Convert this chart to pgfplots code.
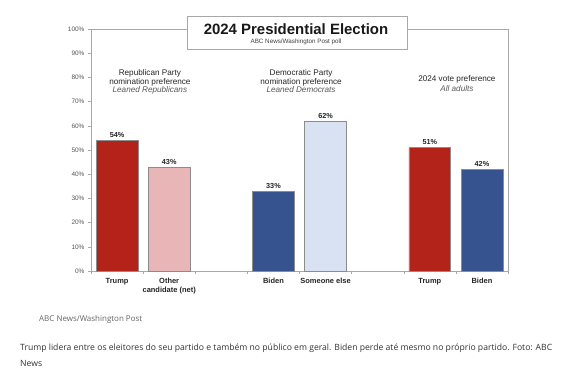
\documentclass[border=0pt]{standalone}
\usepackage{pgfplots}
\pgfplotsset{compat=1.18}
\usepackage{fontspec}
\setmainfont{Liberation Sans}
\newfontfamily\capfont{Open Sans}
\definecolor{rep}{HTML}{B3231A}
\definecolor{reppink}{HTML}{E8B6B6}
\definecolor{dem}{HTML}{37538F}
\definecolor{demlight}{HTML}{D8E2F2}
\definecolor{axgray}{HTML}{A8A8A8}
\definecolor{ticktext}{HTML}{555555}

\begin{document}
\begin{tikzpicture}[x=1bp,y=1bp]
\path[use as bounding box, fill=white] (0,0) rectangle (562,376);
\begin{axis}[
  at={(91bp,105bp)}, anchor=south west,
  scale only axis, width=417bp, height=242bp,
  xmin=0, xmax=8, ymin=0, ymax=100,
  ybar, bar width=0.8,
  axis line style={axgray, line width=0.6pt},
  every tick/.style={axgray, line width=0.5pt},
  tick align=outside,
  xtick pos=bottom, ytick pos=left,
  major tick length=3bp, minor tick length=3bp,
  xtick={0.5,1.5,3.5,4.5,6.5,7.5},
  xticklabels={Trump, Other\\candidate (net), Biden, Someone else, Trump, Biden},
  major x tick style={draw=none},
  minor xtick={0,1,...,8},
  x tick label style={font=\fontsize{7.5}{9}\selectfont\bfseries, align=center, anchor=north, text=black!85, yshift=-1bp},
  ytick={0,10,...,100},
  yticklabels={0\%,10\%,20\%,30\%,40\%,50\%,60\%,70\%,80\%,90\%,100\%},
  y tick label style={font=\fontsize{6.5}{7.5}\selectfont, text=ticktext},
  point meta=explicit symbolic,
  nodes near coords={\pgfplotspointmeta},
  every node near coord/.append style={font=\fontsize{7.3}{8}\selectfont\bfseries, text=black!85, yshift=-1bp},
  clip=false,
]
\addplot[bar shift=0pt, fill=rep, draw=black!45, line width=0.5pt] coordinates {(0.5,54) [54\%] (6.5,51) [51\%]};
\addplot[bar shift=0pt, fill=reppink, draw=black!45, line width=0.5pt] coordinates {(1.5,43) [43\%]};
\addplot[bar shift=0pt, fill=dem, draw=black!45, line width=0.5pt] coordinates {(3.5,33) [33\%] (7.5,42) [42\%]};
\addplot[bar shift=0pt, fill=demlight, draw=black!45, line width=0.5pt] coordinates {(4.5,62) [62\%]};

\begin{scope}[every node/.style={anchor=base, inner sep=0pt, text=black!85}]
\node[font=\fontsize{8.2}{9}\selectfont] at (axis cs:1.13,80.6) {Republican Party};
\node[font=\fontsize{8.2}{9}\selectfont] at (axis cs:1.13,76.9) {nomination preference};
\node[font=\fontsize{8.2}{9}\selectfont\itshape, text=black!65] at (axis cs:1.13,73.6) {Leaned Republicans};
\node[font=\fontsize{8.2}{9}\selectfont] at (axis cs:4.03,80.6) {Democratic Party};
\node[font=\fontsize{8.2}{9}\selectfont] at (axis cs:4.03,76.9) {nomination preference};
\node[font=\fontsize{8.2}{9}\selectfont\itshape, text=black!65] at (axis cs:4.03,73.6) {Leaned Democrats};
\node[font=\fontsize{8.2}{9}\selectfont] at (axis cs:7.02,78.1) {2024 vote preference};
\node[font=\fontsize{8.2}{9}\selectfont\itshape, text=black!65] at (axis cs:7.02,74.0) {All adults};
\end{scope}
\end{axis}

% title box
\draw[axgray, line width=0.6pt, fill=white] (187,327) rectangle (407,360);
\node[font=\fontsize{15}{17}\selectfont\bfseries, inner sep=0pt, text=black!90] at (296,347) {2024 Presidential Election};
\node[font=\fontsize{6.3}{7}\selectfont, inner sep=0pt, text=black!75] at (296,334) {ABC News/Washington Post poll};

% source and caption
\node[anchor=west, inner sep=0pt, font=\capfont\fontsize{8}{9}\selectfont, text=black!60] at (39,57) {ABC News/Washington Post};
\node[anchor=west, inner sep=0pt, font=\capfont\fontsize{8.65}{10}\selectfont, text=black!80] at (20,28) {Trump lidera entre os eleitores do seu partido e também no público em geral. Biden perde até mesmo no próprio partido. Foto: ABC};
\node[anchor=west, inner sep=0pt, font=\capfont\fontsize{8.65}{10}\selectfont, text=black!80] at (20,13) {News};
\end{tikzpicture}
\end{document}
